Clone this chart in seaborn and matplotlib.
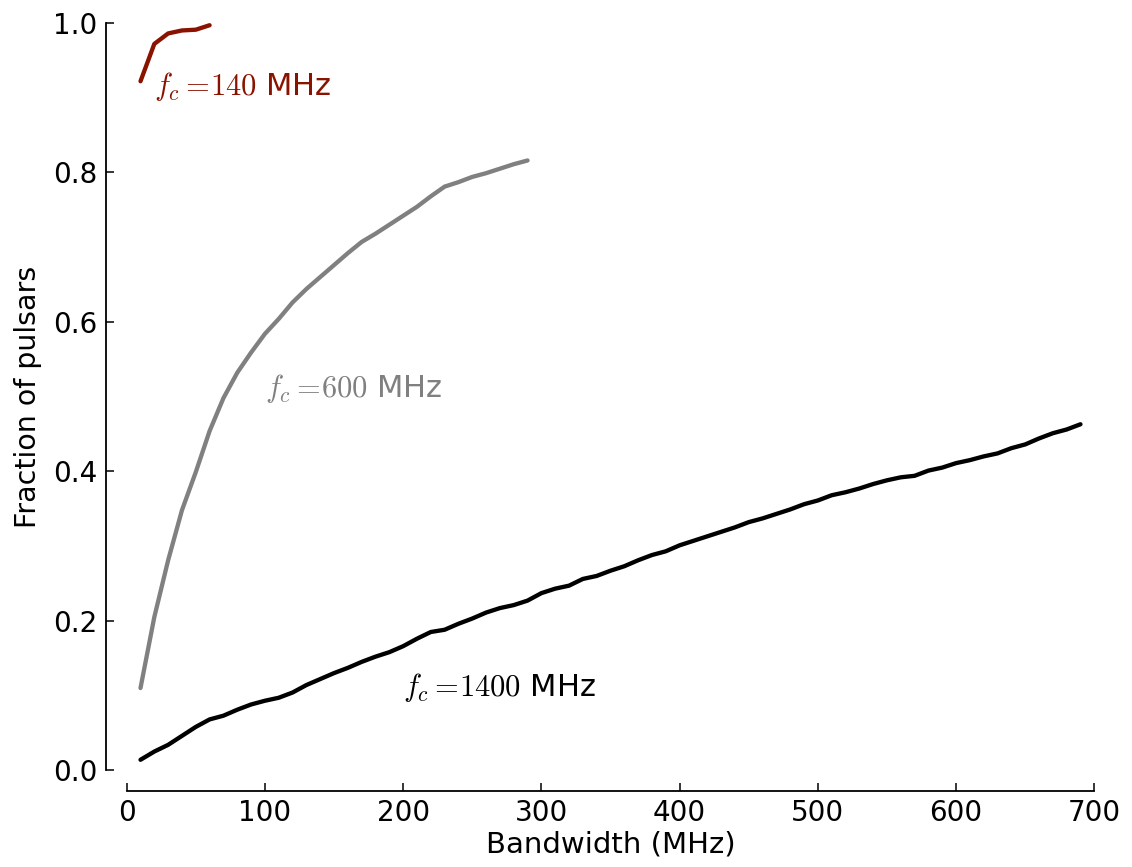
import numpy as np
import pandas as pd
import matplotlib
matplotlib.use("Agg")
import matplotlib.pyplot as plt
import seaborn as sns

# bandwidth grids (MHz)
bw_140 = [10, 20, 30, 40, 50, 60]
bw_600 = list(range(10, 300, 10))
bw_1400 = list(range(10, 700, 10))

# fraction of pulsars for each centre frequency
frac_140 = [0.922, 0.972, 0.986, 0.990, 0.991, 0.997]
frac_600 = [0.110, 0.205, 0.281, 0.348, 0.399, 0.454, 0.498, 0.532, 0.559, 0.584,
            0.604, 0.626, 0.644, 0.660, 0.676, 0.692, 0.707, 0.718, 0.730, 0.742,
            0.754, 0.768, 0.781, 0.787, 0.794, 0.799, 0.805, 0.811, 0.816]
frac_1400 = [0.014, 0.025, 0.034, 0.046, 0.058, 0.068, 0.073, 0.081, 0.088, 0.093,
             0.097, 0.104, 0.114, 0.122, 0.130, 0.137, 0.145, 0.152, 0.158, 0.166,
             0.176, 0.185, 0.188, 0.196, 0.203, 0.211, 0.217, 0.221, 0.227, 0.237,
             0.243, 0.247, 0.256, 0.260, 0.267, 0.273, 0.281, 0.288, 0.293, 0.301,
             0.307, 0.313, 0.319, 0.325, 0.332, 0.337, 0.343, 0.349, 0.356, 0.361,
             0.368, 0.372, 0.377, 0.383, 0.388, 0.392, 0.394, 0.401, 0.405, 0.411,
             0.415, 0.420, 0.424, 0.431, 0.436, 0.444, 0.451, 0.456, 0.463]

labels = [r'$f_c =$$\!140$ MHz', r'$f_c =$$\!600$ MHz', r'$f_c =$$\!1400$ MHz']
colors = ['#8a1200', '#808080', '#000000']
label_pos = [(20, 0.903), (100, 0.5), (200, 0.1)]

sns.set_style("ticks")
plt.rcParams['font.family'] = ['DejaVu Sans']
plt.rcParams['mathtext.fontset'] = 'cm'
for k in ['text.color', 'axes.labelcolor', 'xtick.color', 'ytick.color', 'axes.edgecolor']:
    plt.rcParams[k] = 'black'

fig = plt.figure(figsize=(11.32, 8.67), dpi=100)
ax = fig.add_axes([0.1119, 0.1116, 0.8548, 0.8619])

curves = [(bw_140, frac_140), (bw_600, frac_600), (bw_1400, frac_1400)]
for (bw, frac), c in zip(curves, colors):
    df = pd.DataFrame({'bw': bw, 'frac': frac})
    sns.lineplot(data=df, x='bw', y='frac', color=c, lw=3.1, ax=ax)

for lab, c, (tx, ty) in zip(labels, colors, label_pos):
    ax.text(tx, ty, lab, color=c, fontsize=22, ha='left', va='baseline')

ax.set_xlim(0, 700)
ax.set_ylim(0, 1.0)
ax.set_xticks(np.arange(0, 701, 100))
ax.set_yticks(np.arange(0, 1.01, 0.2))
ax.set_yticklabels([f"{v:.1f}" for v in np.arange(0, 1.01, 0.2)])

for s in ['top', 'right']:
    ax.spines[s].set_visible(False)
for s in ['left', 'bottom']:
    ax.spines[s].set_position(('outward', 15))
    ax.spines[s].set_linewidth(1.3)
ax.spines['left'].set_bounds(0, 1.0)
ax.spines['bottom'].set_bounds(0, 700)

ax.tick_params(direction='in', length=6, width=1.1, labelsize=20, pad=6)
ax.set_xlabel('Bandwidth (MHz)', fontsize=21, labelpad=2)
ax.set_ylabel('Fraction of pulsars', fontsize=20.5, labelpad=8)

fig.savefig('out.png', dpi=100)
